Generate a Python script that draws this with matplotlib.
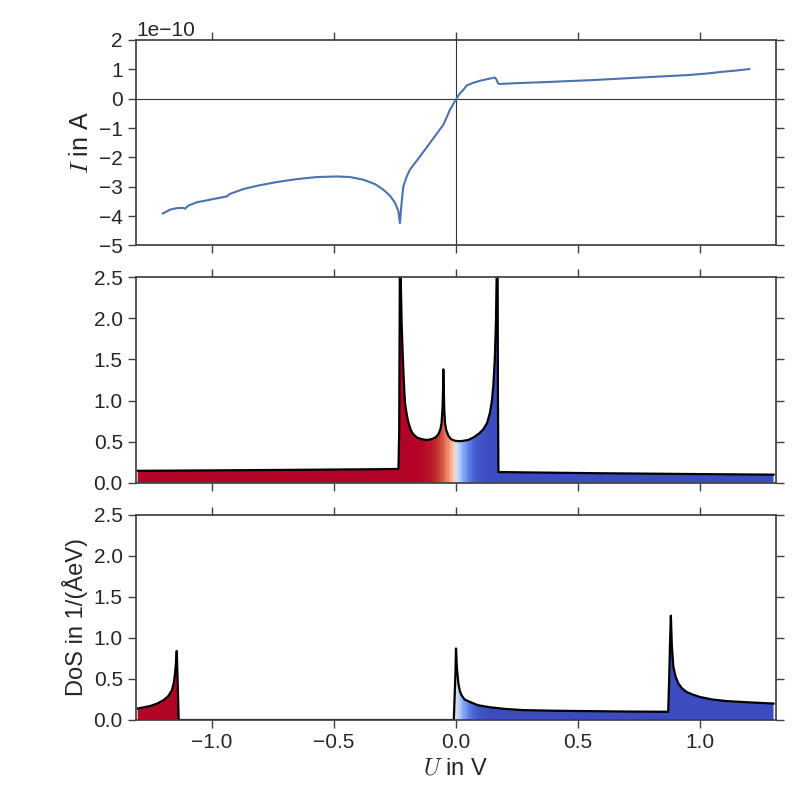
import numpy as np
import matplotlib
matplotlib.use("Agg")
import matplotlib.pyplot as plt
from matplotlib.patches import Polygon
from matplotlib.ticker import MultipleLocator

# --- data ---
# I(U) curve, current in units of 1e-10 A
u_iv = [-1.202, -1.172, -1.145, -1.118, -1.111, -1.097, -1.063, -0.995, -0.94, -0.926,
        -0.872, -0.817, -0.735, -0.653, -0.571, -0.489, -0.434, -0.38, -0.332, -0.298,
        -0.27, -0.25, -0.236, -0.23, -0.223, -0.216, -0.202, -0.189, -0.148, -0.107,
        -0.052, -0.038, -0.025, 0.0, 0.015, 0.03, 0.044, 0.07, 0.098, 0.13,
        0.16, 0.166, 0.172, 0.178, 0.25, 0.35, 0.549, 0.754, 0.959, 1.03,
        1.096, 1.15, 1.202]
i_iv = [-3.91, -3.78, -3.73, -3.72, -3.75, -3.64, -3.53, -3.42, -3.33, -3.24,
        -3.08, -2.97, -2.84, -2.74, -2.67, -2.65, -2.67, -2.76, -2.91, -3.10,
        -3.31, -3.55, -3.84, -4.24, -3.55, -2.99, -2.65, -2.42, -1.97, -1.51,
        -0.89, -0.63, -0.38, -0.02, 0.17, 0.30, 0.45, 0.54, 0.61, 0.67,
        0.72, 0.65, 0.53, 0.50, 0.53, 0.56, 0.63, 0.72, 0.81, 0.86,
        0.92, 0.96, 1.01]

# DoS of the first electrode
u_dos1 = [-1.305, -1.0, -0.6, -0.3, -0.236, -0.233, -0.231, -0.229, -0.226, -0.223,
          -0.219, -0.216, -0.212, -0.209, -0.202, -0.195, -0.185, -0.175, -0.16, -0.141,
          -0.12, -0.1, -0.085, -0.072, -0.064, -0.059, -0.055, -0.053, -0.052, -0.05,
          -0.048, -0.045, -0.04, -0.031, -0.02, -0.004, 0.015, 0.03, 0.05, 0.071,
          0.095, 0.112, 0.128, 0.139, 0.147, 0.153, 0.159, 0.164, 0.167, 0.17,
          0.172, 0.174, 0.3, 0.6, 1.0, 1.302]
dos1 = [0.145, 0.15, 0.158, 0.165, 0.168, 0.6, 2.0, 3.5, 2.4, 1.95,
        1.6, 1.38, 1.12, 0.97, 0.83, 0.73, 0.64, 0.59, 0.55, 0.53,
        0.52, 0.53, 0.55, 0.59, 0.65, 0.73, 0.92, 1.15, 1.38, 1.10,
        0.88, 0.73, 0.64, 0.57, 0.53, 0.51, 0.505, 0.51, 0.52, 0.55,
        0.60, 0.65, 0.73, 0.85, 0.99, 1.18, 1.5, 1.98, 2.6, 3.5,
        1.0, 0.13, 0.125, 0.115, 0.105, 0.098]

# DoS of the second electrode
u_dos2 = [-1.305, -1.28, -1.254, -1.225, -1.2, -1.18, -1.165, -1.157, -1.152, -1.148,
          -1.145, -1.141, -1.137, -1.0, -0.5, -0.009, -0.002, 0.0, 0.004, 0.01,
          0.016, 0.023, 0.035, 0.057, 0.09, 0.139, 0.2, 0.276, 0.4, 0.48,
          0.7, 0.87, 0.874, 0.878, 0.881, 0.885, 0.891, 0.9, 0.911, 0.925,
          0.946, 0.97, 1.0, 1.05, 1.109, 1.2, 1.302]
dos2 = [0.14, 0.155, 0.17, 0.20, 0.24, 0.29, 0.36, 0.45, 0.57, 0.70,
        0.84, 0.45, 0.0, 0.0, 0.0, 0.0, 0.6, 0.87, 0.62, 0.44,
        0.35, 0.30, 0.25, 0.22, 0.18, 0.155, 0.135, 0.12, 0.113, 0.11,
        0.103, 0.10, 0.5, 1.0, 1.27, 0.9, 0.65, 0.53, 0.45, 0.39,
        0.34, 0.31, 0.28, 0.25, 0.23, 0.215, 0.20]

x_lim = (-1.312, 1.312)
kT = 0.0259  # colour ramp width of the fill (eV)

plt.rcParams['font.family'] = ['Liberation Sans', 'DejaVu Sans']
plt.rcParams['mathtext.fontset'] = 'cm'
plt.rcParams['axes.edgecolor'] = '.25'
plt.rcParams['axes.linewidth'] = 1.25
plt.rcParams['text.color'] = '.15'
plt.rcParams['axes.labelcolor'] = '.15'
plt.rcParams['xtick.color'] = '.25'
plt.rcParams['ytick.color'] = '.25'
plt.rcParams['xtick.labelcolor'] = '.15'
plt.rcParams['ytick.labelcolor'] = '.15'


def fill_dos(ax, u, d):
    u = np.asarray(u)
    d = np.asarray(d)
    verts = [(u[0], 0)] + list(zip(u, d)) + [(u[-1], 0)]
    patch = Polygon(verts, closed=True, facecolor='none', edgecolor='none')
    ax.add_patch(patch)
    xg = np.linspace(x_lim[0], x_lim[1], 301)
    occ = 1.0 / (1.0 + np.exp(xg / kT))
    im = ax.imshow(occ[np.newaxis, :], extent=[x_lim[0], x_lim[1], 0, 4],
                   aspect='auto', cmap='coolwarm', vmin=0, vmax=1,
                   origin='lower', interpolation='nearest', zorder=1)
    im.set_clip_path(patch)
    ax.plot(u, d, color='k', lw=1.6, zorder=3)
    ax.set_ylim(0, 2.5)
    ax.yaxis.set_major_locator(MultipleLocator(0.5))


fig = plt.figure(figsize=(8, 8), dpi=100)
ax1, ax2, ax3 = fig.subplots(3, 1, sharex=True)
fig.subplots_adjust(left=0.17, right=0.97, top=0.95, bottom=0.10, hspace=0.155)

# top: current
ax1.plot(u_iv, np.array(i_iv) * 1e-10, color='#4c72b0', lw=1.5, zorder=3)
ax1.axhline(0, color='.2', lw=0.8, zorder=2)
ax1.axvline(0, color='.2', lw=0.8, zorder=2)
ax1.set_ylim(-5e-10, 2e-10)
ax1.set_yticks(np.arange(-5, 3) * 1e-10)
ax1.set_ylabel('$I$ in A', fontsize=18)
ax1.yaxis.get_offset_text().set_fontsize(15)

fill_dos(ax2, u_dos1, dos1)
fill_dos(ax3, u_dos2, dos2)
ax3.set_ylabel('DoS in 1/(ÅeV)', fontsize=17)
ax3.set_xlabel('$U$ in V', fontsize=17)

for ax in (ax1, ax2, ax3):
    ax.set_xlim(*x_lim)
    ax.xaxis.set_major_locator(MultipleLocator(0.5))
    ax.tick_params(direction='out', top=True, right=True, length=6, width=1,
                   labelsize=15)
    for sp in ax.spines.values():
        sp.set_zorder(5)

fig.savefig('out.png', dpi=100)
